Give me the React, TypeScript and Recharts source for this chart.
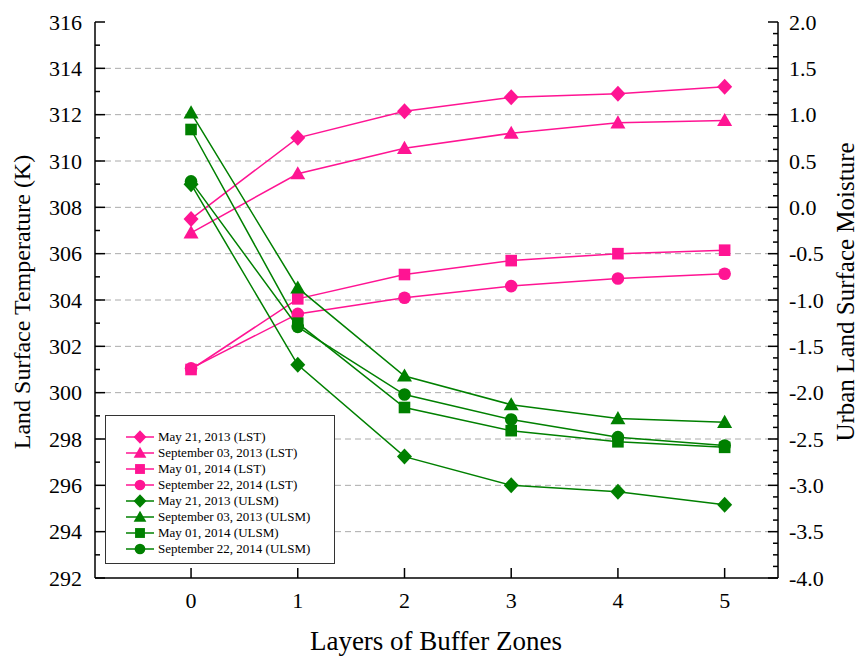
import { LineChart, Line, XAxis, YAxis, CartesianGrid, Legend } from 'recharts';

const LAYERS = [0, 1, 2, 3, 4, 5];

// Land surface temperature (K), left axis
const LST_MAY21_2013 = [307.5, 311.0, 312.15, 312.75, 312.9, 313.2];
const LST_SEP03_2013 = [306.9, 309.45, 310.55, 311.2, 311.65, 311.75];
const LST_MAY01_2014 = [301.0, 304.05, 305.1, 305.7, 306.0, 306.15];
const LST_SEP22_2014 = [301.05, 303.4, 304.1, 304.6, 304.93, 305.13];

// Urban land surface moisture, right axis
const ULSM_MAY21_2013 = [0.25, -1.7, -2.69, -3.0, -3.07, -3.21];
const ULSM_SEP03_2013 = [1.02, -0.87, -1.82, -2.13, -2.28, -2.32];
const ULSM_MAY01_2014 = [0.84, -1.25, -2.16, -2.41, -2.53, -2.59];
const ULSM_SEP22_2014 = [0.28, -1.29, -2.02, -2.29, -2.48, -2.57];

const LEFT_GRID = [294, 296, 298, 300, 302, 304, 306, 308, 310, 312, 314];
const RIGHT_MAJOR = [-4, -3.5, -3, -2.5, -2, -1.5, -1, -0.5, 0, 0.5, 1, 1.5, 2];

// minor ticks every 1 K on the left, every 0.125 on the right
const LEFT_TICKS: number[] = [];
for (let v = 292; v <= 316; v += 1) LEFT_TICKS.push(v);
const RIGHT_TICKS: number[] = [];
for (let v = -4; v <= 2; v += 0.125) RIGHT_TICKS.push(v);

const PINK = '#ff1493';
const GREEN = '#008000';
const FONT = '"Liberation Serif", "Times New Roman", serif';

type Shape = 'diamond' | 'triangle' | 'square' | 'circle';

const SERIES = [
  { key: 'lst1', name: 'May 21, 2013 (LST)', color: PINK, shape: 'diamond', axis: 'left', values: LST_MAY21_2013 },
  { key: 'lst2', name: 'September 03, 2013 (LST)', color: PINK, shape: 'triangle', axis: 'left', values: LST_SEP03_2013 },
  { key: 'lst3', name: 'May 01, 2014 (LST)', color: PINK, shape: 'square', axis: 'left', values: LST_MAY01_2014 },
  { key: 'lst4', name: 'September 22, 2014 (LST)', color: PINK, shape: 'circle', axis: 'left', values: LST_SEP22_2014 },
  { key: 'ulsm1', name: 'May 21, 2013 (ULSM)', color: GREEN, shape: 'diamond', axis: 'right', values: ULSM_MAY21_2013 },
  { key: 'ulsm2', name: 'September 03, 2013 (ULSM)', color: GREEN, shape: 'triangle', axis: 'right', values: ULSM_SEP03_2013 },
  { key: 'ulsm3', name: 'May 01, 2014 (ULSM)', color: GREEN, shape: 'square', axis: 'right', values: ULSM_MAY01_2014 },
  { key: 'ulsm4', name: 'September 22, 2014 (ULSM)', color: GREEN, shape: 'circle', axis: 'right', values: ULSM_SEP22_2014 },
];

const data = LAYERS.map((layer, i) => {
  const row: any = { layer };
  SERIES.forEach(s => { row[s.key] = s.values[i]; });
  return row;
});

function markerEl(shape: Shape, cx: number, cy: number, color: string, k = 1) {
  if (shape === 'diamond') {
    const h = 8 * k, w = 7.5 * k;
    return <polygon points={`${cx},${cy - h} ${cx + w},${cy} ${cx},${cy + h} ${cx - w},${cy}`} fill={color} />;
  }
  if (shape === 'triangle') {
    const h = 7.5 * k, w = 7.5 * k;
    return <polygon points={`${cx},${cy - h} ${cx + w},${cy + h * 0.75} ${cx - w},${cy + h * 0.75}`} fill={color} />;
  }
  if (shape === 'square') {
    const s = 5.8 * k;
    return <rect x={cx - s} y={cy - s} width={s * 2} height={s * 2} fill={color} />;
  }
  return <circle cx={cx} cy={cy} r={6.3 * k} fill={color} />;
}

const makeDot = (shape: Shape, color: string) => (props: any) => {
  const { cx, cy, key, index } = props;
  if (cx == null || cy == null) return <g key={key ?? index} />;
  return <g key={key ?? `${shape}-${index}`}>{markerEl(shape, cx, cy, color)}</g>;
};

const LeftTick = (props: any) => {
  const { x, y, payload } = props;
  const major = payload.value % 2 === 0;
  return (
    <g>
      <line x1={x} x2={x + (major ? 10 : 5)} y1={y} y2={y} stroke="#000" strokeWidth={1.5} />
      {major && (
        <text x={x - 13} y={y} textAnchor="end" dominantBaseline="central" fontSize={22} fontFamily={FONT} fill="#000">
          {payload.value}
        </text>
      )}
    </g>
  );
};

const RightTick = (props: any) => {
  const { x, y, payload } = props;
  const major = RIGHT_MAJOR.includes(payload.value);
  return (
    <g>
      <line x1={x} x2={x - (major ? 10 : 5)} y1={y} y2={y} stroke="#000" strokeWidth={1.5} />
      {major && (
        <text x={x + 11} y={y} textAnchor="start" dominantBaseline="central" fontSize={22} fontFamily={FONT} fill="#000">
          {payload.value.toFixed(1)}
        </text>
      )}
    </g>
  );
};

const BottomTick = (props: any) => {
  const { x, y, payload } = props;
  return (
    <g>
      <line x1={x} x2={x} y1={y} y2={y - 10} stroke="#000" strokeWidth={1.5} />
      <text x={x} y={y + 22} textAnchor="middle" dominantBaseline="central" fontSize={22} fontFamily={FONT} fill="#000">
        {payload.value}
      </text>
    </g>
  );
};

const TopTick = (props: any) => {
  const { x, y } = props;
  return <line x1={x} x2={x} y1={y} y2={y + 10} stroke="#000" strokeWidth={1.5} />;
};

const Title = (props: any) => {
  const { px, py, rotate, text, size } = props;
  return (
    <text
      x={px}
      y={py}
      textAnchor="middle"
      dominantBaseline="central"
      fontSize={size}
      fontFamily={FONT}
      fill="#000"
      transform={rotate ? `rotate(-90, ${px}, ${py})` : undefined}
    >
      {text}
    </text>
  );
};

const LegendBox = () => (
  <div
    style={{
      width: 230,
      height: 149,
      boxSizing: 'border-box',
      border: '1px solid #333',
      background: '#fff',
      paddingTop: 13,
    }}
  >
    {SERIES.map(s => (
      <div key={s.key} style={{ display: 'flex', alignItems: 'center', height: 16 }}>
        <svg width={52} height={16} style={{ flexShrink: 0 }}>
          <line x1={20} x2={48} y1={8} y2={8} stroke={s.color} strokeWidth={1.5} />
          {markerEl(s.shape as Shape, 34, 8, s.color, 0.85)}
        </svg>
        <span style={{ fontFamily: FONT, fontSize: 13, color: '#000', whiteSpace: 'nowrap' }}>{s.name}</span>
      </div>
    ))}
  </div>
);

export default function App() {
  return (
    <div style={{ position: 'absolute', left: 0, top: 0, width: 860, height: 656, background: '#fff' }}>
      <LineChart width={860} height={656} data={data} margin={{ top: 22, right: 0, bottom: 0, left: 0 }}>
        <CartesianGrid
          yAxisId="left"
          vertical={false}
          horizontalValues={LEFT_GRID}
          stroke="#aaa"
          strokeDasharray="6 4"
        />
        <XAxis
          dataKey="layer"
          type="number"
          domain={[-0.9, 5.5]}
          ticks={LAYERS}
          height={78}
          tickSize={0}
          tickMargin={0}
          tickLine={false}
          axisLine={{ stroke: '#000', strokeWidth: 1.5 }}
          tick={<BottomTick />}
          interval={0}
          label={<Title px={436} py={641} size={27} text="Layers of Buffer Zones" />}
        />
        <XAxis
          xAxisId="top"
          orientation="top"
          dataKey="layer"
          type="number"
          domain={[-0.9, 5.5]}
          ticks={LAYERS}
          height={0}
          tickSize={0}
          tickMargin={0}
          tickLine={false}
          axisLine={{ stroke: '#000', strokeWidth: 1.5 }}
          tick={<TopTick />}
          interval={0}
        />
        <YAxis
          yAxisId="left"
          orientation="left"
          domain={[292, 316]}
          ticks={LEFT_TICKS}
          width={95}
          tickSize={0}
          tickMargin={0}
          tickLine={false}
          axisLine={{ stroke: '#000', strokeWidth: 1.5 }}
          tick={<LeftTick />}
          interval={0}
          label={<Title px={22} py={302} rotate size={24} text="Land Surface Temperature (K)" />}
        />
        <YAxis
          yAxisId="right"
          orientation="right"
          domain={[-4, 2]}
          ticks={RIGHT_TICKS}
          width={82}
          tickSize={0}
          tickMargin={0}
          tickLine={false}
          axisLine={{ stroke: '#000', strokeWidth: 1.5 }}
          tick={<RightTick />}
          interval={0}
          label={<Title px={845} py={292} rotate size={25} text="Urban Land Surface Moisture" />}
        />
        {SERIES.map(s => (
          <Line
            key={s.key}
            yAxisId={s.axis}
            dataKey={s.key}
            name={s.name}
            type="linear"
            stroke={s.color}
            strokeWidth={1.5}
            dot={makeDot(s.shape as Shape, s.color)}
            activeDot={false}
            isAnimationActive={false}
          />
        ))}
        <Legend
          layout="horizontal"
          verticalAlign="middle"
          align="center"
          content={<LegendBox />}
          wrapperStyle={{ position: 'absolute', left: 105, top: 415, width: 230, height: 149 }}
        />
      </LineChart>
    </div>
  );
}
